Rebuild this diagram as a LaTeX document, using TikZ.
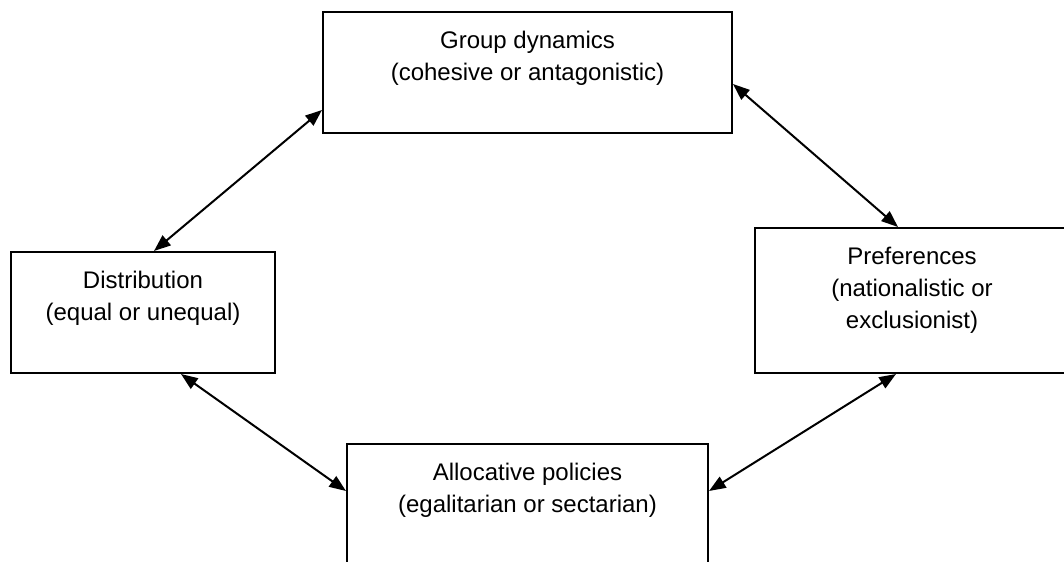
\documentclass[tikz,border=0pt]{standalone}
\usepackage{fontspec}
\setmainfont{Liberation Sans}
\usetikzlibrary{arrows.meta,calc}
\begin{document}
\begin{tikzpicture}[x=0.75pt,y=-0.75pt,
  box/.style={draw=black,line width=1.5pt,rectangle,inner sep=0pt,fill=white},
  lbl/.style={anchor=north,align=center,inner sep=0pt,font=\fontsize{18}{24}\selectfont},
  link/.style={line width=1.5pt,{Triangle[length=12.5pt,width=9.5pt]}-{Triangle[length=12.5pt,width=9.5pt]}}]
\useasboundingbox (0,0) rectangle (1064,561);
\clip (0,0) rectangle (1064,561);
\fill[white] (0,0) rectangle (1064,561);
% boxes
\node[box,minimum width=409*0.75pt,minimum height=121*0.75pt] (gd) at (527.5,72.5) {};
\node[box,minimum width=264*0.75pt,minimum height=121*0.75pt] (dist) at (143,312.5) {};
\node[box,minimum width=314*0.75pt,minimum height=145*0.75pt] (pref) at (912,300.5) {};
\node[box,minimum width=361*0.75pt,minimum height=121*0.75pt] (alloc) at (527.5,504.5) {};
% texts
\node[lbl] (gdt) at ($(gd.north)+(0,19.7)$) {Group dynamics\\(cohesive or antagonistic)};
\node[lbl] (distt) at ($(dist.north)+(0,19.7)$) {Distribution\\(equal or unequal)};
\node[lbl] (preft) at ($(pref.north)+(0,19.7)$) {Preferences\\(nationalistic or\\exclusionist)};
\node[lbl] (allocpt) at ($(alloc.north)+(0,19.7)$) {Allocative policies\\(egalitarian or sectarian)};
% connectors
\draw[link] ($(gd.south west)+(0,-24)$) -- ($(dist.north west)+(144,0)$);
\draw[link] ($(gd.north east)+(0,73)$) -- ($(pref.north west)+(144,0)$);
\draw[link] ($(dist.south west)+(171,0)$) -- ($(alloc.north west)+(0,48)$);
\draw[link] ($(pref.south west)+(142,0)$) -- ($(alloc.north east)+(0,48)$);
\end{tikzpicture}
\end{document}
